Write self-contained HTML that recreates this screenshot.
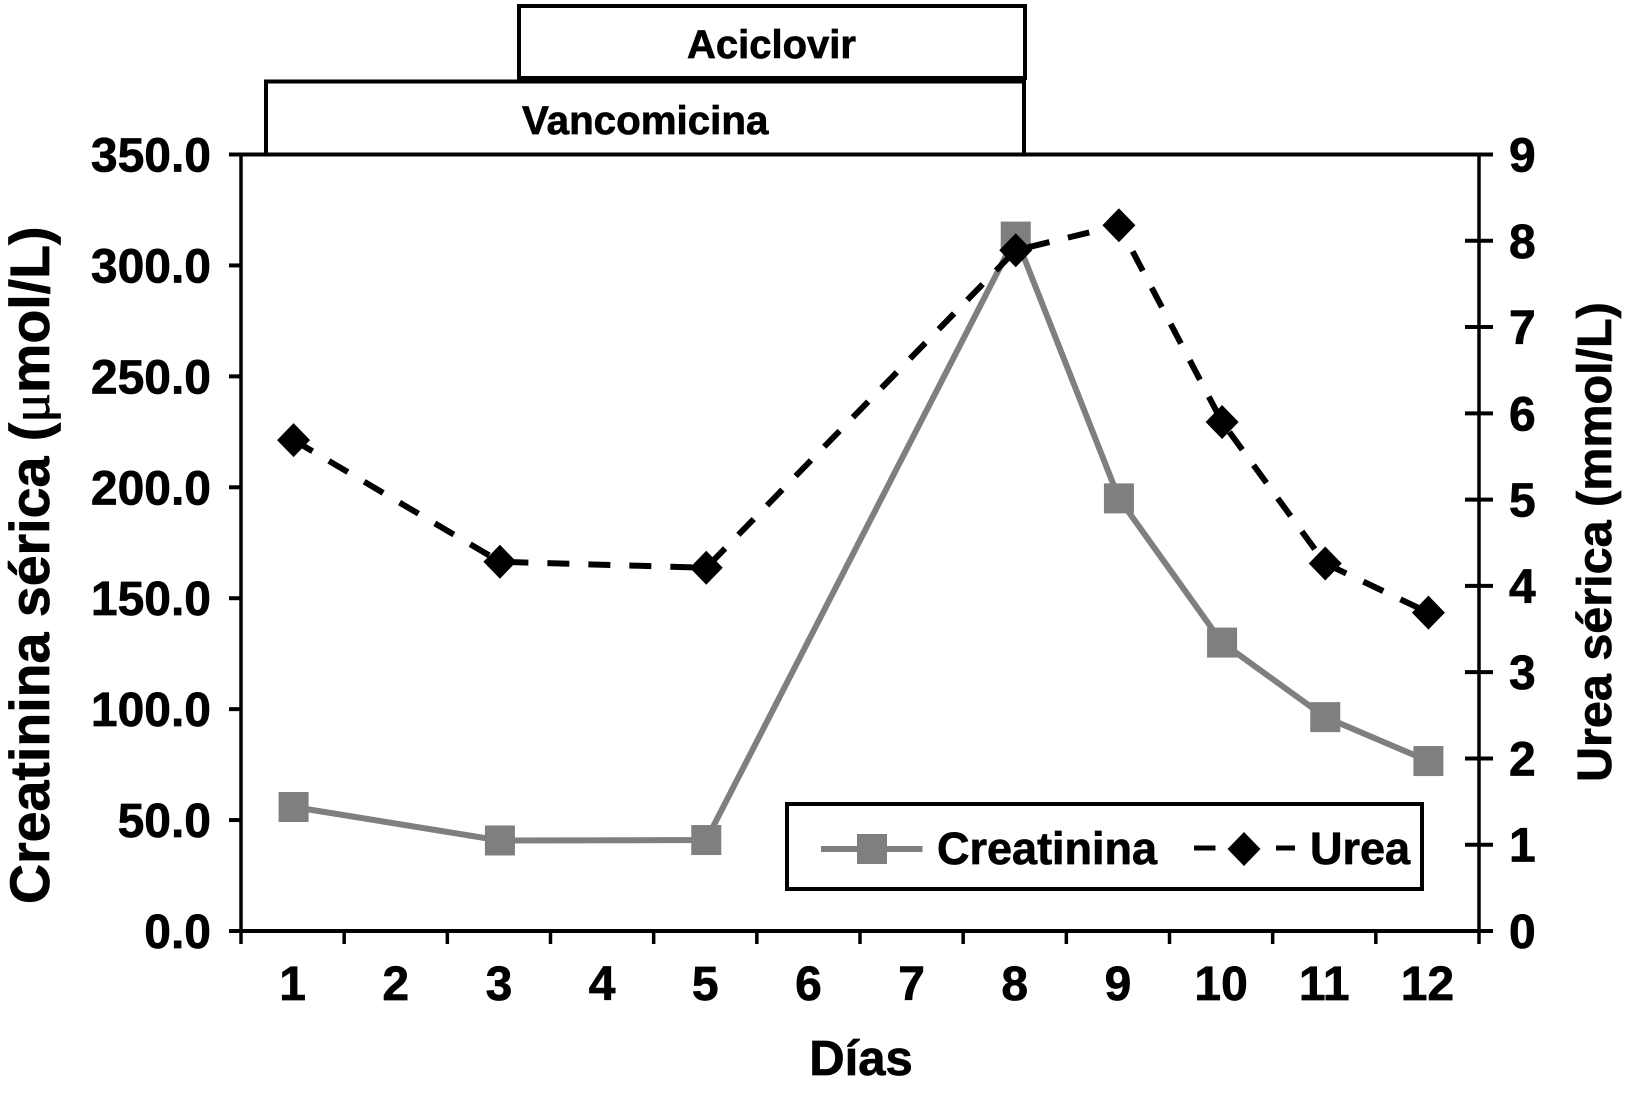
<!DOCTYPE html>
<html lang="es">
<head>
<meta charset="utf-8">
<title>Creatinina y urea séricas</title>
<style>
html,body{margin:0;padding:0;background:#fff;}
svg{display:block;}
text{font-family:"Liberation Sans",sans-serif;font-weight:700;fill:#000;stroke:#000;stroke-width:0.7px;}
</style>
</head>
<body>
<svg id="chart" xmlns="http://www.w3.org/2000/svg" width="1639" height="1097" viewBox="0 0 1639 1097">
  <rect x="0" y="0" width="1639" height="1097" fill="#fff"/>

  <g id="gridless-axes"></g>
  <g id="marks"></g>

  <g>
    <rect x="519" y="6" width="506" height="72" fill="#fff" stroke="#000" stroke-width="4"/>
    <text x="687" y="58" font-size="40">Aciclovir</text>
  </g>
  <g>
    <rect x="266" y="81.5" width="758" height="73" fill="#fff" stroke="#000" stroke-width="4"/>
    <text x="522" y="134" font-size="40.3">Vancomicina</text>
  </g>
  <line x1="229" x2="1493" y1="154.5" y2="154.5" stroke="#000" stroke-width="4"/>

  <text transform="translate(49 904) rotate(-90)" font-size="55.5">Creatinina sérica (<tspan style="font-family:'Liberation Serif',serif;font-weight:400">μ</tspan>mol/L)</text>
  <text transform="translate(1611 782) rotate(-90)" font-size="48.5">Urea sérica (mmol/L)</text>
  <text x="861" y="1075" font-size="49" text-anchor="middle">Días</text>

  <g>
    <rect x="787" y="804" width="635" height="85" fill="#fff" stroke="#000" stroke-width="4"/>
    <line x1="821" x2="922.5" y1="849" y2="849" stroke="#7f7f7f" stroke-width="6"/>
    <rect x="857" y="834" width="30" height="30" fill="#7f7f7f"/>
    <text x="937" y="864" font-size="45">Creatinina</text>
    <line x1="1194" x2="1215.5" y1="848" y2="848" stroke="#000" stroke-width="5"/>
    <polygon points="1244,832 1260.5,849 1244,866 1227.5,849" fill="#000"/>
    <line x1="1276" x2="1295" y1="848" y2="848" stroke="#000" stroke-width="5"/>
    <text x="1310" y="864" font-size="45">Urea</text>
  </g>
</svg>

<script>
const categories = ['1','2','3','4','5','6','7','8','9','10','11','12'];
const creatinina = [55.9,null,40.8,null,41,null,null,313,195,130,96.4,76.6];
const urea = [5.69,null,4.28,null,4.21,null,null,7.89,8.18,5.9,4.26,3.69];
const leftTicks = [0,50,100,150,200,250,300,350];
const rightTicks = [0,1,2,3,4,5,6,7,8,9];

const plotLeft = 241, plotRight = 1479, plotTop = 154.5, plotBottom = 931;
const leftMax = 350, rightMax = 9, markerShift = 1;
const NS = 'http://www.w3.org/2000/svg';

function xBand(i){ return plotLeft + (plotRight - plotLeft) * i / categories.length; }
function xCenter(i){ return xBand(i + 0.5); }
function xMark(i){ return xCenter(i) + markerShift; }
function yLeft(v){ return plotBottom - (plotBottom - plotTop) * v / leftMax; }
function yRight(v){ return plotBottom - (plotBottom - plotTop) * v / rightMax; }

function make(tag, attrs, parent){
  const el = document.createElementNS(NS, tag);
  for (const k in attrs) el.setAttribute(k, attrs[k]);
  parent.appendChild(el);
  return el;
}
const axes = document.getElementById('gridless-axes');
const marks = document.getElementById('marks');

let axisLine = make('line', {x1:plotLeft, x2:plotLeft, y1:plotTop, y2:plotBottom, stroke:'#000', 'stroke-width':3.5}, axes);


axisLine = make('line', {x1:plotRight, x2:plotRight, y1:plotTop, y2:plotBottom, stroke:'#000', 'stroke-width':3.5}, axes);


axisLine = make('line', {x1:plotLeft - 12, x2:plotRight + 14, y1:plotBottom, y2:plotBottom, stroke:'#000', 'stroke-width':4}, axes);



leftTicks.forEach(function(v){
  const y = yLeft(v);
  const t = make('line', {x1:plotLeft - 12, x2:plotLeft, y1:y, y2:y, stroke:'#000', 'stroke-width':4}, axes);
  
  
  const l = make('text', {x:211, y:y + 17, 'font-size':48, 'text-anchor':'end'}, axes);
  
  
  l.textContent = v.toFixed(1);
});

rightTicks.forEach(function(v){
  const y = yRight(v);
  const t = make('line', {x1:plotRight - 14, x2:plotRight + 14, y1:y, y2:y, stroke:'#000', 'stroke-width':4}, axes);
  
  
  const l = make('text', {x:1509, y:y + 17, 'font-size':48}, axes);
  
  
  l.textContent = String(v);
});

for (let i = 0; i <= categories.length; i++) {
  const x = xBand(i);
  const t = make('line', {x1:x, x2:x, y1:plotBottom, y2:plotBottom + 13, stroke:'#000', 'stroke-width':3.5}, axes);
  
  
}
categories.forEach(function(c, i){
  const l = make('text', {x:xCenter(i), y:1000, 'font-size':48, 'text-anchor':'middle'}, axes);
  
  
  l.textContent = c;
});

function linePoints(values, yFn){
  const pts = [];
  values.forEach(function(v, i){ if (v !== null) pts.push(xMark(i) + ',' + yFn(v)); });
  return pts.join(' ');
}

const creatLine = make('polyline', {points:linePoints(creatinina, yLeft), fill:'none', stroke:'#7f7f7f', 'stroke-width':6}, marks);



creatinina.forEach(function(v, i){
  if (v === null) return;
  const s = make('rect', {x:xMark(i) - 15, y:yLeft(v) - 15, width:30, height:30, fill:'#7f7f7f'}, marks);
  
  
});

const ureaLine = make('polyline', {points:linePoints(urea, yRight), fill:'none', stroke:'#000', 'stroke-width':6, 'stroke-dasharray':'22 19'}, marks);



urea.forEach(function(v, i){
  if (v === null) return;
  const x = xMark(i), y = yRight(v);
  const d = make('polygon', {points:[x, y - 17, x + 16.5, y, x, y + 17, x - 16.5, y].join(' '), fill:'#000'}, marks);
  
  
});
</script>
</body>
</html>
